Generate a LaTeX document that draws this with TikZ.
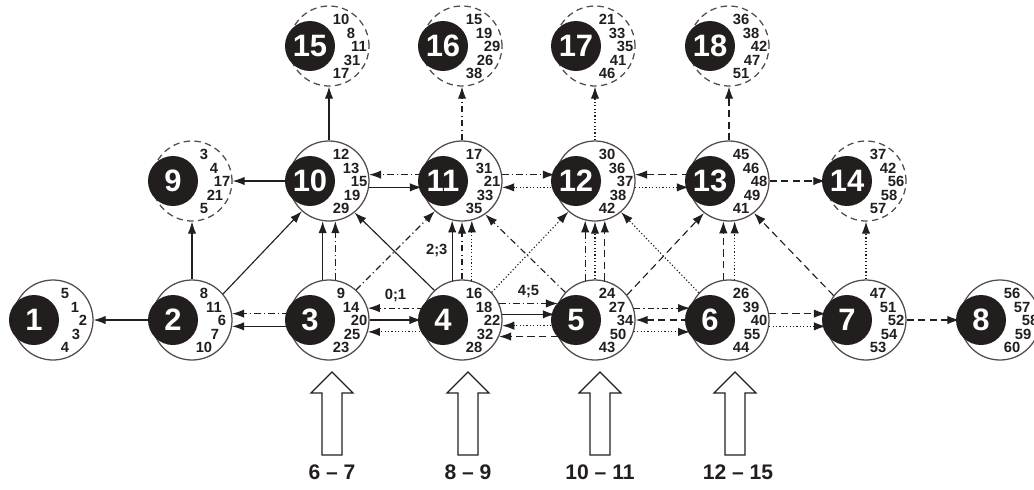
\documentclass[tikz,border=0pt]{standalone}
\usepackage{fontspec}
\setmainfont{Liberation Sans}
\usepackage{xcolor}
\usetikzlibrary{arrows.meta, calc}
\definecolor{ink}{RGB}{35,30,30}
\definecolor{rim}{RGB}{85,76,74}
\tikzset{
    mystate/.style={circle,draw=rim,line width=0.9pt,minimum size=2cm,inner sep=0pt},
    myguess/.style={mystate,dash pattern=on 1.6mm off 1.1mm},
    mydisk/.style={circle,fill=ink,minimum size=1.25cm,inner sep=0pt,text=white,
        font=\bfseries\fontsize{22}{24}\selectfont},
    mynum/.style={inner sep=0pt,text=ink,font=\bfseries\fontsize{10.5}{11}\selectfont},
    mylabel/.style={inner sep=1pt,text=ink,font=\bfseries\fontsize{10.5}{11}\selectfont}
}
% #1 name, #2 style, #3 position, #4 number in the disk, #5-#9 numbers on the rim
\newcommand{\mystatenode}[9]{%
  \node[#2] (#1) at (#3) {};
  \node[mydisk] (#1k) at ($(#1)+(-19,0)$) {#4};
  \node[mynum] (#1a) at ($(#1)+(12,-27)$) {#5};
  \node[mynum] (#1b) at ($(#1)+(22,-13)$) {#6};
  \node[mynum] (#1c) at ($(#1)+(30,0)$) {#7};
  \node[mynum] (#1d) at ($(#1)+(23,14)$) {#8};
  \node[mynum] (#1e) at ($(#1)+(12,27)$) {#9};
}

\begin{document}
\begin{tikzpicture}[x=0.025cm,y=-0.025cm]
\tikzset{
    myline/.style={draw=ink,line width=0.8pt,-{Latex[length=3mm,width=2.1mm]}},
    mydash/.style={myline,dash pattern=on 1.8mm off 1.1mm},
    mydot/.style={myline,dash pattern=on 0.3mm off 0.55mm},
    mydashdot/.style={myline,dash pattern=on 1.6mm off 0.8mm on 0.3mm off 0.8mm},
    myinput/.style={draw=ink,line width=0.8pt},
    mytext/.style={text=ink,font=\bfseries\fontsize{15}{17}\selectfont}
}
  \useasboundingbox (0,0) rectangle (1034,489);
  % lower row
  \mystatenode{s1}{mystate}{53,320}{1}{5}{1}{2}{3}{4}
  \mystatenode{s2}{mystate}{192,320}{2}{8}{11}{6}{7}{10}
  \mystatenode{s3}{mystate}{329,320}{3}{9}{14}{20}{25}{23}
  \mystatenode{s4}{mystate}{462,320}{4}{16}{18}{22}{32}{28}
  \mystatenode{s5}{mystate}{595,320}{5}{24}{27}{34}{50}{43}
  \mystatenode{s6}{mystate}{729,320}{6}{26}{39}{40}{55}{44}
  \mystatenode{s7}{mystate}{866,320}{7}{47}{51}{52}{54}{53}
  \mystatenode{s8}{mystate}{1000,320}{8}{56}{57}{58}{59}{60}
  % middle row
  \mystatenode{s9}{myguess}{192,181}{9}{3}{4}{17}{21}{5}
  \mystatenode{s10}{mystate}{329,181}{10}{12}{13}{15}{19}{29}
  \mystatenode{s11}{mystate}{462,181}{11}{17}{31}{21}{33}{35}
  \mystatenode{s12}{mystate}{595,181}{12}{30}{36}{37}{38}{42}
  \mystatenode{s13}{mystate}{729,181}{13}{45}{46}{48}{49}{41}
  \mystatenode{s14}{myguess}{866,181}{14}{37}{42}{56}{58}{57}
  % upper row
  \mystatenode{s15}{myguess}{329,46}{15}{10}{8}{11}{31}{17}
  \mystatenode{s16}{myguess}{462,46}{16}{15}{19}{29}{26}{38}
  \mystatenode{s17}{myguess}{595,46}{17}{21}{33}{35}{41}{46}
  \mystatenode{s18}{myguess}{729,46}{18}{36}{38}{42}{47}{51}
  % lower row links
  \draw[myline] (s2.180) -- (s1.0);
  \draw[mydashdot] (s3.171) -- (s2.9);
  \draw[myline] (s3.189) -- (s2.-9);
  \draw[mydashdot] (s4.163) -- (s3.17) node[mylabel,midway,above=3pt] (l01) {0;1};
  \draw[myline] (s3.0) -- (s4.180);
  \draw[mydot] (s4.197) -- (s3.-17);
  \draw[mydashdot] (s4.24) -- (s5.156) node[mylabel,midway,above=3pt] (l45) {4;5};
  \draw[myline] (s4.8) -- (s5.172);
  \draw[mydot] (s5.188) -- (s4.-8);
  \draw[mydash] (s5.204) -- (s4.-24);
  \draw[mydashdot] (s5.17) -- (s6.163);
  \draw[mydash] (s6.180) -- (s5.0);
  \draw[mydot] (s5.-17) -- (s6.197);
  \draw[mydash] (s6.9) -- (s7.171);
  \draw[mydot] (s6.-9) -- (s7.189);
  \draw[mydash] (s7.0) -- (s8.180);
  % middle row links
  \draw[myline] (s10.180) -- (s9.0);
  \draw[mydashdot] (s11.171) -- (s10.9);
  \draw[myline] (s10.-9) -- (s11.189);
  \draw[mydashdot] (s11.9) -- (s12.171);
  \draw[mydot] (s12.189) -- (s11.-9);
  \draw[mydash] (s13.171) -- (s12.9);
  \draw[mydot] (s12.-9) -- (s13.189);
  \draw[mydash] (s13.0) -- (s14.180);
  % middle to upper
  \draw[myline] (s10.90) -- (s15.270);
  \draw[mydashdot] (s11.90) -- (s16.270);
  \draw[mydot] (s12.90) -- (s17.270);
  \draw[mydash] (s13.90) -- (s18.270);
  % lower to middle
  \draw[myline] (s2.90) -- (s9.270);
  \draw[myline] (s2.40) -- (s10.228);
  \draw[myline] (s3.99) -- (s10.261);
  \draw[mydashdot] (s3.81) -- (s10.279);
  \draw[myline] (s4.133) -- (s10.-51);
  \draw[mydashdot] (s3.48) -- (s11.228);
  \draw[myline] (s4.104) -- (s11.256) node[mylabel,midway,left=2pt] (l23) {2;3};
  \draw[mydashdot] (s4.90) -- (s11.270);
  \draw[mydot] (s4.76) -- (s11.284);
  \draw[mydashdot] (s5.137) -- (s11.-55);
  \draw[mydot] (s4.43) -- (s12.229);
  \draw[mydashdot] (s5.104) -- (s12.256);
  \draw[mydot] (s5.90) -- (s12.270);
  \draw[mydash] (s5.76) -- (s12.284);
  \draw[mydot] (s6.138) -- (s12.-50);
  \draw[mydash] (s5.38) -- (s13.232);
  \draw[mydash] (s6.98) -- (s13.262);
  \draw[mydot] (s6.82) -- (s13.278);
  \draw[mydash] (s7.143) -- (s13.-52);
  \draw[mydot] (s7.90) -- (s14.270);
  % inputs from below
  \draw[myinput] (322,455) -- ++(0,-62) -- ++(-11,0) -- ++(21,-21) -- ++(21,21) -- ++(-11,0) -- ++(0,62) -- cycle;
  \draw[myinput] (458,455) -- ++(0,-62) -- ++(-11,0) -- ++(21,-21) -- ++(21,21) -- ++(-11,0) -- ++(0,62) -- cycle;
  \draw[myinput] (590,455) -- ++(0,-62) -- ++(-11,0) -- ++(21,-21) -- ++(21,21) -- ++(-11,0) -- ++(0,62) -- cycle;
  \draw[myinput] (725,455) -- ++(0,-62) -- ++(-11,0) -- ++(21,-21) -- ++(21,21) -- ++(-11,0) -- ++(0,62) -- cycle;
  \node[mytext] (t1) at (332,472) {6 – 7};
  \node[mytext] (t2) at (468,472) {8 – 9};
  \node[mytext] (t3) at (600,472) {10 – 11};
  \node[mytext] (t4) at (738,472) {12 – 15};
\end{tikzpicture}
\end{document}
